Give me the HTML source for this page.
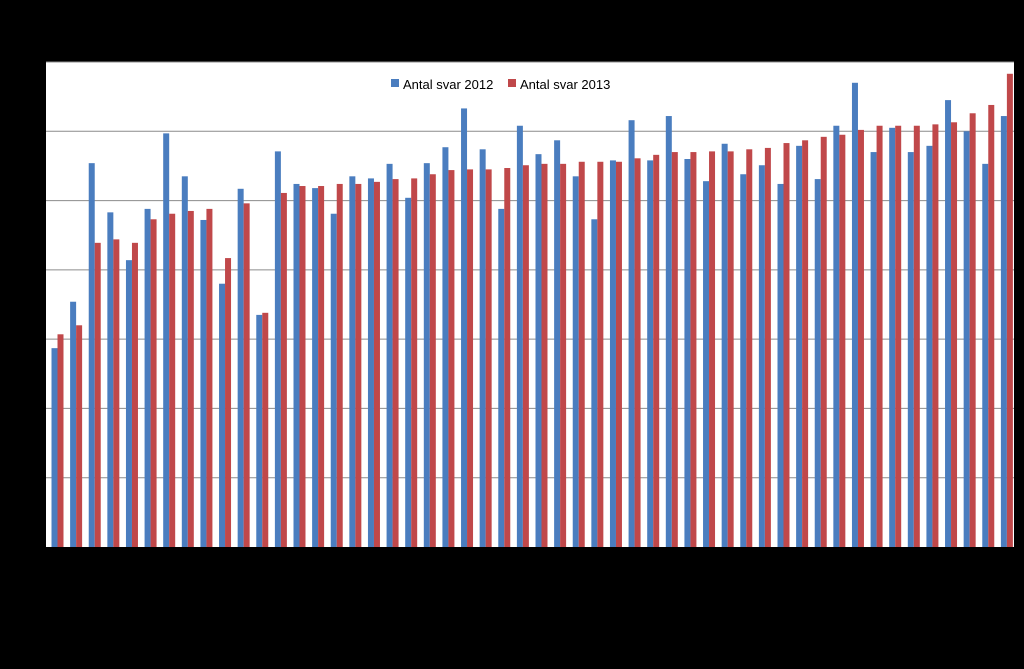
<!DOCTYPE html>
<html><head><meta charset="utf-8"><style>
html,body{margin:0;padding:0;background:#000;width:1024px;height:669px;overflow:hidden}
svg{display:block}
text{font-family:"Liberation Sans",sans-serif}
</style></head><body>
<svg id="chart" width="1024" height="669">
<rect x="46" y="62" width="968" height="485" fill="#fff"/>
<g id="grid"></g><g id="bars"></g>
<g>
<rect x="391" y="79" width="8" height="8" fill="#4a7dbf"/>
<text x="403" y="89" font-size="13" fill="#000">Antal svar 2012</text>
<rect x="508" y="79" width="8" height="8" fill="#c0484a"/>
<text x="520" y="89" font-size="13" fill="#000">Antal svar 2013</text>
</g>
</svg>
<script>
const categories = Array.from({length:52},(_,i)=>'C'+(i+1));
const series2012 = [2.87,3.54,5.54,4.83,4.14,4.88,5.97,5.35,4.72,3.80,5.17,3.35,5.71,5.24,5.18,4.81,5.35,5.32,5.53,5.04,5.54,5.77,6.33,5.74,4.88,6.08,5.67,5.87,5.35,4.73,5.58,6.16,5.58,6.22,5.60,5.28,5.82,5.38,5.51,5.24,5.79,5.31,6.08,6.70,5.70,6.05,5.70,5.79,6.45,6.00,5.53,6.22];
const series2013 = [3.07,3.20,4.39,4.44,4.39,4.73,4.81,4.85,4.88,4.17,4.96,3.38,5.11,5.21,5.21,5.24,5.24,5.27,5.31,5.32,5.38,5.44,5.45,5.45,5.47,5.51,5.53,5.53,5.56,5.56,5.56,5.61,5.66,5.70,5.70,5.71,5.71,5.74,5.76,5.83,5.87,5.92,5.95,6.02,6.08,6.08,6.08,6.10,6.13,6.26,6.38,6.83];
const yTicks = [1,2,3,4,5,6,7];
const ns='http://www.w3.org/2000/svg';
const X0=46,X1=1014,Y0=547,YMAX=7,PH=485;
const y=v=>Y0-v/YMAX*PH;
const gw=(X1-X0)/categories.length;
const x=i=>X0+i*gw;
const grid=document.getElementById('grid');
yTicks.forEach(t=>{const l=document.createElementNS(ns,'line');
l.setAttribute('x1',X0);l.setAttribute('x2',X1);l.setAttribute('y1',y(t));l.setAttribute('y2',y(t));
l.setAttribute('stroke','#8c8c8c');l.setAttribute('stroke-width','1');


grid.appendChild(l);});
const bars=document.getElementById('bars');
categories.forEach((c,i)=>{
 const b=document.createElementNS(ns,'rect');
 b.setAttribute('x',x(i)+5.5);b.setAttribute('width',6);b.setAttribute('y',y(series2012[i]));b.setAttribute('height',Y0-y(series2012[i]));b.setAttribute('fill','#4a7dbf');
 
 
 bars.appendChild(b);
 const r=document.createElementNS(ns,'rect');
 r.setAttribute('x',x(i)+11.5);r.setAttribute('width',6);r.setAttribute('y',y(series2013[i]));r.setAttribute('height',Y0-y(series2013[i]));r.setAttribute('fill','#c0484a');
 
 
 bars.appendChild(r);
});
</script>
</body></html>
